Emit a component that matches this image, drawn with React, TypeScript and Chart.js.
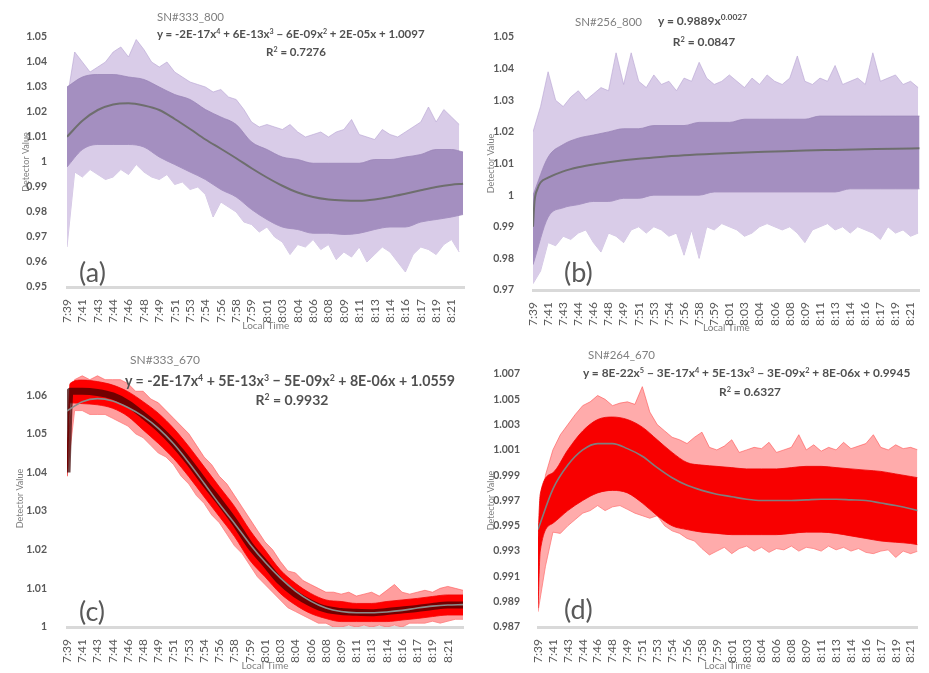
import React, { useEffect, useRef } from 'react';
import { Chart, registerables } from 'chart.js';
Chart.register(...registerables);
Chart.defaults.font.family = 'Lato, "Open Sans", sans-serif';

// time axis: one sample every 50 s, a label every 2 samples
const timeLabels = ['7:39','7:41','7:43','7:44','7:46','7:48','7:49','7:51','7:53','7:54','7:56','7:58','7:59','8:01','8:03','8:04','8:06','8:08','8:09','8:11','8:13','8:14','8:16','8:17','8:19','8:21'];
const labelSamples = [0,2,4,6,8,10,12,14,16,18,20,22,24,26,28,30,32,34,36,38,40,42,44,46,48,50];

// ---------- (a) SN#333_800 ----------
const aTicks = [0.95,0.96,0.97,0.98,0.99,1,1.01,1.02,1.03,1.04,1.05];
const aTrendX = [0,2,4,6,8,10,12,14,16,18,20,22,24,26,28,30,32,34,36,38,40,42,44,46,48,50,51.5];
const aTrend = [1.0101,1.0165,1.0208,1.0230,1.0235,1.0226,1.0208,1.0172,1.0132,1.0090,1.0053,1.0015,0.9975,0.9938,0.9905,0.9878,0.9860,0.9850,0.9846,0.9845,0.9850,0.9860,0.9873,0.9887,0.9900,0.9909,0.9913];
const aBandHi = [1.030,1.034,1.035,1.035,1.034,1.033,1.030,1.027,1.025,1.021,1.018,1.015,1.008,1.005,1.002,1.001,0.9995,0.9995,0.9995,0.9995,1.001,1.001,1.002,1.003,1.005,1.005,1.004];
const aBandLo = [0.998,1.005,1.007,1.007,1.007,1.006,1.002,0.999,0.996,0.993,0.989,0.986,0.981,0.977,0.974,0.973,0.9715,0.9715,0.971,0.9715,0.973,0.974,0.974,0.976,0.977,0.978,0.979];
const aSpikeHi = [1.025,1.044,1.040,1.036,1.038,1.040,1.044,1.046,1.042,1.049,1.045,1.040,1.038,1.040,1.036,1.034,1.032,1.031,1.030,1.028,1.029,1.026,1.025,1.021,1.016,1.014,1.015,1.014,1.013,1.015,1.012,1.010,1.011,1.012,1.010,1.012,1.013,1.017,1.011,1.010,1.009,1.013,1.011,1.010,1.012,1.014,1.016,1.022,1.016,1.021,1.018,1.015];
const aSpikeLo = [0.966,0.996,0.994,0.997,0.995,0.993,0.994,0.997,0.995,0.999,0.996,0.994,0.993,0.995,0.991,0.992,0.989,0.990,0.987,0.978,0.984,0.982,0.980,0.976,0.975,0.972,0.974,0.970,0.968,0.963,0.967,0.966,0.969,0.965,0.967,0.961,0.964,0.962,0.966,0.960,0.963,0.966,0.964,0.960,0.956,0.963,0.966,0.965,0.963,0.967,0.969,0.964];

// ---------- (b) SN#256_800 ----------
const bTicks = [0.97,0.98,0.99,1,1.01,1.02,1.03,1.04,1.05];
const bTrendX = [0,0.2,0.6,1,2,4,6,8,10,12,14,16,20,24,28,32,36,40,44,48,51.2];
const bTrend = [0.990,0.998,1.002,1.004,1.0055,1.0075,1.0088,1.0097,1.0104,1.0110,1.0115,1.0119,1.0126,1.0131,1.0135,1.0138,1.0141,1.0143,1.0145,1.0147,1.0148];
const bBandX = [0,2,4,6,8,10,12,14,16,18,20,22,24,26,28,30,32,34,36,38,40,42,44,46,48,50,51.2];
const bBandHi = [1.000,1.012,1.016,1.018,1.019,1.020,1.021,1.021,1.022,1.022,1.022,1.023,1.023,1.023,1.024,1.024,1.024,1.024,1.024,1.025,1.025,1.025,1.025,1.025,1.025,1.025,1.025];
const bBandLo = [0.978,0.993,0.996,0.997,0.998,0.998,0.999,0.999,1.000,1.000,1.000,1.000,1.001,1.001,1.001,1.001,1.001,1.001,1.001,1.001,1.001,1.002,1.002,1.002,1.002,1.002,1.002];
const bSpikeHi = [1.020,1.028,1.039,1.030,1.028,1.031,1.033,1.030,1.032,1.034,1.033,1.045,1.035,1.045,1.036,1.034,1.038,1.035,1.036,1.033,1.037,1.036,1.042,1.037,1.035,1.036,1.038,1.036,1.034,1.037,1.035,1.038,1.036,1.035,1.037,1.044,1.036,1.035,1.037,1.036,1.041,1.035,1.036,1.037,1.035,1.045,1.036,1.037,1.038,1.035,1.036,1.034];
const bSpikeLo = [0.972,0.976,0.985,0.984,0.987,0.986,0.988,0.989,0.985,0.982,0.988,0.987,0.985,0.989,0.990,0.988,0.990,0.989,0.987,0.988,0.981,0.989,0.980,0.990,0.989,0.991,0.990,0.989,0.987,0.988,0.990,0.991,0.990,0.989,0.990,0.988,0.985,0.989,0.990,0.991,0.989,0.990,0.988,0.990,0.989,0.988,0.986,0.990,0.988,0.989,0.987,0.988];

// ---------- (c) SN#333_670 ----------
const cTicks = [1,1.01,1.02,1.03,1.04,1.05,1.06];
const cTrendX = [0,2,4,6,8,10,12,14,16,18,20,22,24,26,28,30,32,34,36,38,40,42,44,46,48,50,52];
const cTrend = [1.0559,1.0583,1.0591,1.0585,1.0568,1.0545,1.0514,1.0474,1.0425,1.0372,1.0318,1.0268,1.0215,1.0168,1.0127,1.0093,1.0067,1.0049,1.0040,1.0037,1.0037,1.0039,1.0043,1.0049,1.0054,1.0057,1.0058];
const cBandX = [0,0.4,2,4,6,8,10,12,14,16,18,20,22,24,26,28,30,32,34,36,38,40,42,44,46,48,50,52];
const cBandHi = [1.041,1.063,1.0639,1.0635,1.0626,1.0609,1.0583,1.0553,1.0514,1.0467,1.0415,1.0363,1.0312,1.0251,1.0199,1.0148,1.0113,1.0087,1.0070,1.0066,1.0061,1.0061,1.0066,1.0070,1.0074,1.0079,1.0083,1.0083];
const cBandLo = [1.039,1.058,1.0578,1.0575,1.0566,1.0545,1.0510,1.0475,1.0436,1.0389,1.0337,1.0286,1.0234,1.0173,1.0130,1.0087,1.0057,1.0035,1.0022,1.0014,1.0014,1.0014,1.0014,1.0018,1.0022,1.0027,1.0031,1.0031];
const cCenter = [1.040,1.061,1.0610,1.0607,1.0598,1.0578,1.0548,1.0515,1.0475,1.0428,1.0375,1.0325,1.0272,1.0212,1.0165,1.0118,1.0085,1.0062,1.0046,1.0040,1.0038,1.0037,1.0040,1.0044,1.0048,1.0053,1.0057,1.0057];
const cSpikeHi = [1.046,1.064,1.065,1.064,1.065,1.064,1.064,1.064,1.063,1.061,1.061,1.059,1.058,1.056,1.054,1.052,1.050,1.047,1.044,1.042,1.039,1.037,1.034,1.031,1.028,1.025,1.022,1.020,1.017,1.0145,1.014,1.012,1.011,1.010,1.009,1.009,1.0085,1.009,1.008,1.0085,1.009,1.008,1.0095,1.011,1.009,1.0085,1.009,1.0095,1.009,1.010,1.0105,1.010,1.0095];
const cSpikeLo = [1.039,1.056,1.056,1.055,1.055,1.055,1.054,1.053,1.052,1.050,1.049,1.047,1.045,1.044,1.042,1.039,1.037,1.034,1.032,1.029,1.027,1.024,1.021,1.019,1.016,1.013,1.011,1.009,1.007,1.005,1.004,1.003,1.002,1.001,1.001,1.000,1.000,1.0005,1.000,1.0005,1.000,1.0005,1.000,1.0005,1.000,1.001,1.001,1.001,1.0015,1.001,1.0015,1.002,1.002];

// ---------- (d) SN#264_670 ----------
const dTicks = [0.987,0.989,0.991,0.993,0.995,0.997,0.999,1.001,1.003,1.005,1.007];
const dTrendX = [0,2,4,6,8,10,12,14,16,18,20,22,24,26,28,30,32,34,36,38,40,42,44,46,48,50,51];
const dTrend = [0.9947,0.9979,0.9998,1.0010,1.0015,1.0015,1.0011,1.0005,0.9996,0.9988,0.9982,0.9978,0.9975,0.9973,0.9971,0.9970,0.9970,0.9970,0.99705,0.9971,0.9971,0.99705,0.9970,0.9968,0.9966,0.99635,0.9962];
const dBandX = [0,0.3,2,4,6,8,10,12,14,16,18,20,22,24,26,28,30,32,34,36,38,40,42,44,46,48,50,51];
const dBandHi = [0.994,0.9975,0.9992,1.0010,1.0025,1.0034,1.0036,1.0034,1.0028,1.0018,1.0008,1.0000,0.9998,0.9997,0.9996,0.9995,0.9995,0.9995,0.9996,0.9997,0.9997,0.9996,0.9995,0.9994,0.9993,0.9991,0.9989,0.9988];
const dBandLo = [0.9885,0.993,0.9952,0.9962,0.9970,0.9976,0.9978,0.9976,0.9968,0.9958,0.9950,0.9947,0.9945,0.9944,0.9943,0.9943,0.9943,0.9943,0.9944,0.9945,0.9945,0.9944,0.9942,0.9940,0.9938,0.9937,0.9936,0.9935];
const dSpikeHi = [0.9945,0.9990,1.0010,1.0022,1.0030,1.0038,1.0045,1.0048,1.0053,1.0050,1.0045,1.0047,1.0048,1.0046,1.0060,1.0040,1.0030,1.0025,1.0020,1.0018,1.0015,1.0020,1.0024,1.0012,1.0010,1.0013,1.0018,1.0008,1.0010,1.0012,1.0011,1.0016,1.0008,1.0010,1.0012,1.0022,1.0010,1.0014,1.0009,1.0012,1.0010,1.0016,1.0011,1.0013,1.0015,1.0022,1.0012,1.0010,1.0014,1.0011,1.0012,1.0010];
const dSpikeLo = [0.9882,0.9918,0.9945,0.9944,0.9950,0.9955,0.9960,0.9962,0.9966,0.9962,0.9965,0.9966,0.9963,0.9960,0.9958,0.9956,0.9958,0.9950,0.9946,0.9944,0.9940,0.9938,0.9932,0.9927,0.9930,0.9933,0.9928,0.9932,0.9934,0.9930,0.9933,0.9929,0.9932,0.9931,0.9934,0.9930,0.9933,0.9932,0.9930,0.9934,0.9931,0.9933,0.9930,0.9932,0.9929,0.9928,0.9930,0.9931,0.9925,0.9930,0.9928,0.9930];

type Spec = {
  left: number; top: number; width: number; height: number;
  yAxisWidth: number; xAxisHeight: number; padTop: number; padRight: number;
  yMin: number; yMax: number; yTicks: number[]; xMax: number;
  yTitlePad: number; yLabelPad: number; xTitlePad: number;
  trendX: number[]; trend: number[]; bandX: number[]; bandHi: number[]; bandLo: number[];
  center?: number[]; spikeHi: number[]; spikeLo: number[];
  col: { env: string; envEdge: string; band: string; bandEdge: string; center?: string; centerW?: number; trend: string; trendW: number };
};

const purple = { env: '#d9cce8', envEdge: 'rgba(185,165,212,0.9)', band: '#a48fc0', bandEdge: '#9a85b7', trend: '#6e6e6e', trendW: 2 };

const specs: Spec[] = [
  { left: 0, top: 0, width: 470, height: 335, yAxisWidth: 67, xAxisHeight: 48, padTop: 37, padRight: 2,
    yMin: 0.95, yMax: 1.05, yTicks: aTicks, xMax: 51.7, yTitlePad: 21, yLabelPad: 12, xTitlePad: 3,
    trendX: aTrendX, trend: aTrend, bandX: aTrendX, bandHi: aBandHi, bandLo: aBandLo, spikeHi: aSpikeHi, spikeLo: aSpikeLo, col: purple },
  { left: 465, top: 0, width: 464, height: 335, yAxisWidth: 68, xAxisHeight: 45, padTop: 37, padRight: 0,
    yMin: 0.97, yMax: 1.05, yTicks: bTicks, xMax: 51.2, yTitlePad: 21, yLabelPad: 11, xTitlePad: 1,
    trendX: bTrendX, trend: bTrend, bandX: bBandX, bandHi: bBandHi, bandLo: bBandLo, spikeHi: bSpikeHi, spikeLo: bSpikeLo, col: purple },
  { left: 0, top: 335, width: 470, height: 338, yAxisWidth: 67, xAxisHeight: 46, padTop: 35, padRight: 7,
    yMin: 1.0, yMax: 1.0665, yTicks: cTicks, xMax: 52, yTitlePad: 15, yLabelPad: 12, xTitlePad: 1,
    trendX: cTrendX, trend: cTrend, bandX: cBandX, bandHi: cBandHi, bandLo: cBandLo, center: cCenter, spikeHi: cSpikeHi, spikeLo: cSpikeLo,
    col: { env: 'rgba(255,125,125,0.75)', envEdge: 'rgba(255,90,90,0.9)', band: '#ff0000', bandEdge: '#f00000', center: 'rgba(60,0,0,0.72)', centerW: 7, trend: '#8c8c8c', trendW: 1.6 } },
  { left: 465, top: 335, width: 464, height: 338, yAxisWidth: 73, xAxisHeight: 46, padTop: 39, padRight: 0,
    yMin: 0.987, yMax: 1.007, yTicks: dTicks, xMax: 50.9, yTitlePad: 21, yLabelPad: 10, xTitlePad: 1,
    trendX: dTrendX, trend: dTrend, bandX: dBandX, bandHi: dBandHi, bandLo: dBandLo, spikeHi: dSpikeHi, spikeLo: dSpikeLo,
    col: { env: 'rgba(255,120,120,0.62)', envEdge: 'rgba(255,80,80,0.85)', band: '#f80000', bandEdge: '#ee0000', trend: '#7f7f7f', trendW: 1.6 } },
];

function pts(xs: number[], ys: number[]) {
  return ys.map((y, i) => ({ x: xs[i], y }));
}

function buildConfig(p: Spec): any {
  const sampleIdx = p.spikeHi.map((_, i) => i);
  const datasets: any[] = [];
  datasets.push({ data: pts(p.trendX, p.trend), borderColor: p.col.trend, borderWidth: p.col.trendW, pointRadius: 0, cubicInterpolationMode: 'monotone', fill: false });
  if (p.center) {
    datasets.push({ data: pts(p.bandX, p.center), borderColor: p.col.center, borderWidth: p.col.centerW, pointRadius: 0, cubicInterpolationMode: 'monotone', fill: false });
  }
  datasets.push({ data: pts(p.bandX, p.bandHi), borderColor: p.col.bandEdge, borderWidth: 0.8, pointRadius: 0, cubicInterpolationMode: 'monotone', fill: '+1', backgroundColor: p.col.band });
  datasets.push({ data: pts(p.bandX, p.bandLo), borderColor: p.col.bandEdge, borderWidth: 0.8, pointRadius: 0, cubicInterpolationMode: 'monotone', fill: false });
  datasets.push({ data: pts(sampleIdx, p.spikeHi), borderColor: p.col.envEdge, borderWidth: 0.7, pointRadius: 0, tension: 0, fill: '+1', backgroundColor: p.col.env });
  datasets.push({ data: pts(sampleIdx, p.spikeLo), borderColor: p.col.envEdge, borderWidth: 0.7, pointRadius: 0, tension: 0, fill: false });

  return {
    type: 'line',
    data: { datasets },
    options: {
      responsive: false,
      animation: false,
      devicePixelRatio: 1,
      events: [],
      layout: { padding: { top: p.padTop, right: p.padRight, left: 0, bottom: 0 } },
      plugins: { legend: { display: false }, tooltip: { enabled: false } },
      scales: {
        x: {
          type: 'linear', min: 0, max: p.xMax,
          afterBuildTicks: (s: any) => { s.ticks = labelSamples.map((v) => ({ value: v })); },
          afterFit: (s: any) => { s.height = p.xAxisHeight; },
          ticks: { autoSkip: false, minRotation: 90, maxRotation: 90, padding: 4, color: '#595959', font: { size: 12 },
            callback: (_v: any, i: number) => timeLabels[i] },
          grid: { display: false },
          border: { display: true, color: '#d9d9d9', width: 3 },
          title: { display: true, text: 'Local Time', color: '#7f7f7f', font: { size: 10 }, padding: { top: 0, bottom: p.xTitlePad } },
        },
        y: {
          min: p.yMin, max: p.yMax,
          afterBuildTicks: (s: any) => { s.ticks = p.yTicks.map((v) => ({ value: v })); },
          afterFit: (s: any) => { s.width = p.yAxisWidth; },
          ticks: { padding: p.yLabelPad, color: '#595959', font: { size: 10.5, weight: 'bold' },
            callback: (v: any) => String(+(+v).toFixed(4)) },
          grid: { display: false },
          border: { display: false },
          title: { display: true, text: 'Detector Value', color: '#7f7f7f', font: { size: 9 }, padding: { top: p.yTitlePad, bottom: 0 } },
        },
      },
    },
  };
}

function Panel({ spec }: { spec: Spec }) {
  const ref = useRef<HTMLCanvasElement>(null);
  useEffect(() => {
    const chart = new Chart(ref.current as HTMLCanvasElement, buildConfig(spec));
    return () => chart.destroy();
  }, [spec]);
  return (
    <canvas ref={ref} width={spec.width} height={spec.height}
      style={{ position: 'absolute', left: spec.left, top: spec.top, width: spec.width, height: spec.height, display: 'block' }} />
  );
}

function T({ x, y, size, bold, color, center, children }: any) {
  return (
    <div style={{ position: 'absolute', left: x, top: y, transform: `translate(${center ? '-50%' : '0'}, -50%)`,
      fontSize: size, fontWeight: bold ? 700 : 400, color: color || '#505050', whiteSpace: 'nowrap', lineHeight: 1,
      fontFamily: 'Lato, "Open Sans", sans-serif' }}>{children}</div>
  );
}

function S({ c, f }: { c: string; f?: number }) {
  return <sup style={{ fontSize: `${f || 0.62}em`, verticalAlign: '0.55em', lineHeight: 0 }}>{c}</sup>;
}

export default function App() {
  return (
    <div style={{ position: 'absolute', left: 0, top: 0, width: 929, height: 673, background: '#fff', overflow: 'hidden' }}>
      {specs.map((s, i) => <Panel key={i} spec={s} />)}

      <T x={157} y={17} size={11.5} color="#7f7f7f">SN#333_800</T>
      <T x={157} y={34} size={11.5} bold>y = -2E-17x<S c="4" /> + 6E-13x<S c="3" /> − 6E-09x<S c="2" /> + 2E-05x + 1.0097</T>
      <T x={296} y={52} size={11.5} bold center>R<S c="2" /> = 0.7276</T>

      <T x={575} y={22} size={11.5} color="#7f7f7f">SN#256_800</T>
      <T x={658} y={21} size={12} bold>y = 0.9889x<S c="0.0027" f={0.7} /></T>
      <T x={704} y={42} size={12} bold center>R<S c="2" /> = 0.0847</T>

      <T x={130} y={360} size={12} color="#7f7f7f">SN#333_670</T>
      <T x={125} y={381} size={14.2} bold>y = -2E-17x<S c="4" /> + 5E-13x<S c="3" /> − 5E-09x<S c="2" /> + 8E-06x + 1.0559</T>
      <T x={292} y={400} size={14} bold center>R<S c="2" /> = 0.9932</T>

      <T x={588} y={355} size={11.5} color="#7f7f7f">SN#264_670</T>
      <T x={583} y={373} size={11.9} bold>y = 8E-22x<S c="5" /> − 3E-17x<S c="4" /> + 5E-13x<S c="3" /> − 3E-09x<S c="2" /> + 8E-06x + 0.9945</T>
      <T x={750} y={392} size={11.9} bold center>R<S c="2" /> = 0.6327</T>

      <T x={79} y={271} size={27} color="#595959">(a)</T>
      <T x={564} y={271} size={27} color="#595959">(b)</T>
      <T x={79} y={610} size={27} color="#595959">(c)</T>
      <T x={564} y={608} size={27} color="#595959">(d)</T>
    </div>
  );
}
